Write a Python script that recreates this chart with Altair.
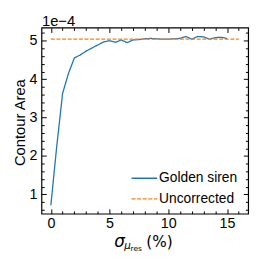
import altair as alt
import pandas as pd

# ---- data (y in units of 1e-4) ----
sigma_golden = [0, 0.5, 1, 1.5, 2, 2.5, 3, 3.5, 4, 4.5, 5, 5.5, 6, 6.5, 7, 7.5,
                8, 8.5, 9, 9.5, 10, 10.5, 11, 11.5, 12, 12.5, 13, 13.5, 14, 14.5, 15]
area_golden = [0.72, 2.25, 3.63, 4.15, 4.55, 4.63, 4.73, 4.81, 4.89, 4.97, 5.00, 4.96,
               5.02, 4.95, 5.02, 5.03, 5.05, 5.06, 5.05, 5.04, 5.04, 5.05, 5.06, 5.11,
               5.04, 5.11, 5.10, 5.04, 5.08, 5.09, 5.06]
sigma_uncorr = [0, 16]
area_uncorr = [5.04, 5.04]

series_names = ["Golden siren", "Uncorrected"]
series_colors = ["#1f77b4", "#ff7f0e"]
series_dash = [[1, 0], [4, 1.7]]

x_major = [0, 5, 10, 15]
x_minor = [1, 2, 3, 4, 6, 7, 8, 9, 11, 12, 13, 14, 16]
y_major = [1, 2, 3, 4, 5]
y_minor = [0.6, 0.8, 1.2, 1.4, 1.6, 1.8, 2.2, 2.4, 2.6, 2.8, 3.2, 3.4, 3.6, 3.8,
           4.2, 4.4, 4.6, 4.8, 5.2]

df = pd.concat([
    pd.DataFrame({"sigma": sigma_golden, "area": area_golden, "series": series_names[0]}),
    pd.DataFrame({"sigma": sigma_uncorr, "area": area_uncorr, "series": series_names[1]}),
], ignore_index=True)

W, H = 210, 189
FONT = "Liberation Sans"
MAJ, MIN = 4.9, 2.8

xs = alt.Scale(domain=[-0.8, 16.8], nice=False, zero=False)
ys = alt.Scale(domain=[0.50, 5.34], nice=False, zero=False)


def ax(orient, values, size, labels=False, **kw):
    return alt.Axis(orient=orient, values=values, tickSize=size, offset=-size,
                    domain=False, grid=False, labels=labels, tickColor="black",
                    tickWidth=1, labelFont=FONT, labelFontSize=14.5, labelColor="black",
                    titleColor="black", titleFontWeight="normal", **kw)


legend = alt.Legend(title=None, orient="none", legendX=90.5, legendY=139,
                    symbolType="stroke", symbolSize=676, symbolStrokeWidth=1.3,
                    labelFont=FONT, labelFontSize=14, labelColor="black",
                    labelOffset=1, rowPadding=-7, padding=0)

main = alt.Chart(df).mark_line(strokeWidth=1.3).encode(
    x=alt.X("sigma:Q", scale=xs,
            axis=ax("bottom", x_major, MAJ, labels=True, labelPadding=3.5,
                    title="σ", titleFont="DejaVu Sans", titleFontStyle="italic",
                    titleFontSize=17, titleAlign="left", titleBaseline="alphabetic",
                    titleX=73.5, titleY=38)),
    y=alt.Y("area:Q", scale=ys,
            axis=ax("left", y_major, MAJ, labels=True, labelPadding=4.5,
                    title="Contour Area", titleFont=FONT, titleFontSize=15,
                    titleAngle=270, titleAlign="center", titleBaseline="middle",
                    titleX=-27.4, titleY=96)),
    color=alt.Color("series:N", scale=alt.Scale(domain=series_names, range=series_colors),
                    legend=legend),
    strokeDash=alt.StrokeDash("series:N", scale=alt.Scale(domain=series_names, range=series_dash),
                              legend=legend),
)

minor_bl = alt.Chart(df).mark_point(opacity=0).encode(
    x=alt.X("sigma:Q", scale=xs,
            axis=ax("bottom", x_minor, MIN, title="μ", titleFont="DejaVu Sans",
                    titleFontStyle="italic", titleFontSize=10.5, titleAlign="left",
                    titleBaseline="alphabetic", titleX=83.5, titleY=38.3)),
    y=alt.Y("area:Q", scale=ys, axis=ax("left", y_minor, MIN, title=None)),
)

major_tr = alt.Chart(df).mark_point(opacity=0).encode(
    x=alt.X("sigma:Q", scale=xs,
            axis=ax("top", x_major, MAJ, title="res", titleFont="DejaVu Sans",
                    titleFontSize=7.5, titleAlign="left", titleBaseline="alphabetic",
                    titleX=90, titleY=221.6)),
    y=alt.Y("area:Q", scale=ys, axis=ax("right", y_major, MAJ, title=None)),
)

minor_tr = alt.Chart(df).mark_point(opacity=0).encode(
    x=alt.X("sigma:Q", scale=xs,
            axis=ax("top", x_minor, MIN, title="(%)", titleFont="DejaVu Sans",
                    titleFontSize=15.5, titleAlign="left", titleBaseline="alphabetic",
                    titleX=106, titleY=219.5)),
    y=alt.Y("area:Q", scale=ys, axis=ax("right", y_minor, MIN, title=None)),
)

offset_text = alt.Chart(df).mark_point(opacity=0).encode(
    x=alt.X("sigma:Q", scale=xs,
            axis=alt.Axis(orient="top", values=[], ticks=False, labels=False, domain=False,
                          grid=False, title="1e−4", titleFont=FONT, titleFontSize=15,
                          titleFontWeight="normal", titleColor="black", titleAlign="left",
                          titleBaseline="alphabetic", titleX=0, titleY=-2.5)),
    y=alt.Y("area:Q", scale=ys, axis=None),
)

chart = alt.layer(main, minor_bl, major_tr, minor_tr, offset_text).resolve_axis(
    x="independent", y="independent"
).properties(
    width=W, height=H,
    autosize=alt.AutoSizeParams(type="none"),
    padding={"left": 34, "top": 18, "right": 10, "bottom": 40},
).configure_view(stroke="black", strokeWidth=1.2)

chart.save("out.html", embed_options={"renderer": "svg", "actions": False})
